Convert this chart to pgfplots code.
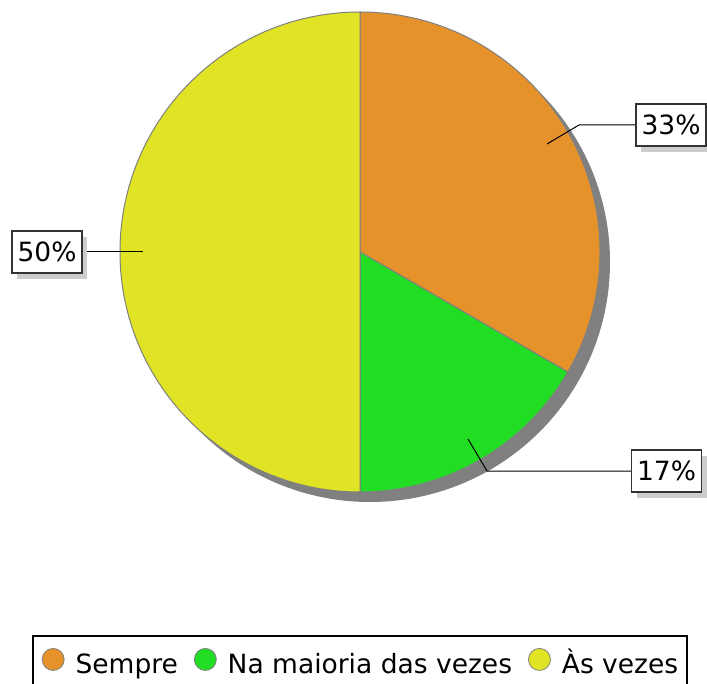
\documentclass[border=0pt]{standalone}
\usepackage{pgfplots}
\pgfplotsset{compat=1.18}
\usepackage{pgfplotstable}
\usepackage{fontspec}
\setmainfont{DejaVu Sans}
\usetikzlibrary{shadows}
\definecolor{cSempre}{RGB}{229,146,43}
\definecolor{cMaioria}{RGB}{33,222,36}
\definecolor{cVezes}{RGB}{224,228,37}
\definecolor{cEdge}{RGB}{128,128,128}
\definecolor{cShadow}{RGB}{128,128,128}
\definecolor{cBox}{RGB}{51,51,51}

\pgfplotstableread[col sep=comma]{
label,value
Sempre,2
Na maioria das vezes,1
Às vezes,3
}\piedata

\begin{document}
\fontsize{26.5}{32}\selectfont
\begin{tikzpicture}
\pgfplotstablegetelem{0}{value}\of\piedata \let\vA\pgfplotsretval
\pgfplotstablegetelem{1}{value}\of\piedata \let\vB\pgfplotsretval
\pgfplotstablegetelem{2}{value}\of\piedata \let\vC\pgfplotsretval
\pgfmathsetmacro\tot{\vA+\vB+\vC}
\pgfmathsetmacro\aA{90-360*\vA/\tot}
\pgfmathsetmacro\aB{\aA-360*\vB/\tot}
\pgfmathsetmacro\aC{\aB-360*\vC/\tot}
\begin{axis}[
  hide axis, scale only axis, width=707pt, height=684pt,
  xmin=0, xmax=707, ymin=0, ymax=684, y dir=reverse, clip=false,
  legend columns=3, legend cell align=left,
  legend style={at={(0.5092,0.0716)}, anchor=north, draw=black, line width=2pt,
    inner xsep=9pt, inner ysep=12pt, font=\fontsize{26.5}{32}\selectfont,
    column sep=0pt,
    /tikz/every odd column/.append style={column sep=11pt},
    /tikz/every even column/.append style={column sep=16pt},
    nodes={inner sep=0pt, text height=20pt, text depth=6pt}},
]
\addlegendimage{legend image code/.code={\draw[draw=cEdge, fill=cSempre, line width=0.8pt] (11pt,7pt) circle[radius=11pt];}}
\addlegendentry{Sempre}
\addlegendimage{legend image code/.code={\draw[draw=cEdge, fill=cMaioria, line width=0.8pt] (11pt,7pt) circle[radius=11pt];}}
\addlegendentry{Na maioria das vezes}
\addlegendimage{legend image code/.code={\draw[draw=cEdge, fill=cVezes, line width=0.8pt] (11pt,7pt) circle[radius=11pt];}}
\addlegendentry{Às vezes}

\coordinate (BL) at (axis cs:0,684);
\coordinate (TR) at (axis cs:707,0);

% shadow of the pie
\fill[cShadow] (axis cs:370,262) circle[radius=240pt];
% slices
\filldraw[fill=cSempre, draw=cEdge, line width=1pt] (axis cs:360,252) -- ++(90:240pt) arc[start angle=90, end angle=\aA, radius=240pt] -- cycle;
\filldraw[fill=cMaioria, draw=cEdge, line width=1pt] (axis cs:360,252) -- ++(\aA:240pt) arc[start angle=\aA, end angle=\aB, radius=240pt] -- cycle;
\filldraw[fill=cVezes, draw=cEdge, line width=1pt] (axis cs:360,252) -- ++(\aB:240pt) arc[start angle=\aB, end angle=\aC, radius=240pt] -- cycle;

% leader lines
\draw[black, line width=1pt] (axis cs:547,144) -- (axis cs:579,125) -- (axis cs:636,125);
\draw[black, line width=1pt] (axis cs:468,439) -- (axis cs:487,471) -- (axis cs:631,471);
\draw[black, line width=1pt] (axis cs:143,252) -- (axis cs:82,252);

% labels
\tikzset{pielbl/.style={draw=cBox, line width=1.2pt, fill=white, minimum width=70pt, minimum height=42pt, inner sep=0pt,
  drop shadow={shadow xshift=5pt, shadow yshift=-6pt, fill=black!20, opacity=1}}}
\node[pielbl] at (axis cs:671,125) {33\%};
\node[pielbl] at (axis cs:666.5,471) {17\%};
\node[pielbl] at (axis cs:47,252) {50\%};
\end{axis}
\pgfresetboundingbox
\path[use as bounding box] (BL) rectangle (TR);
\end{tikzpicture}
\end{document}
